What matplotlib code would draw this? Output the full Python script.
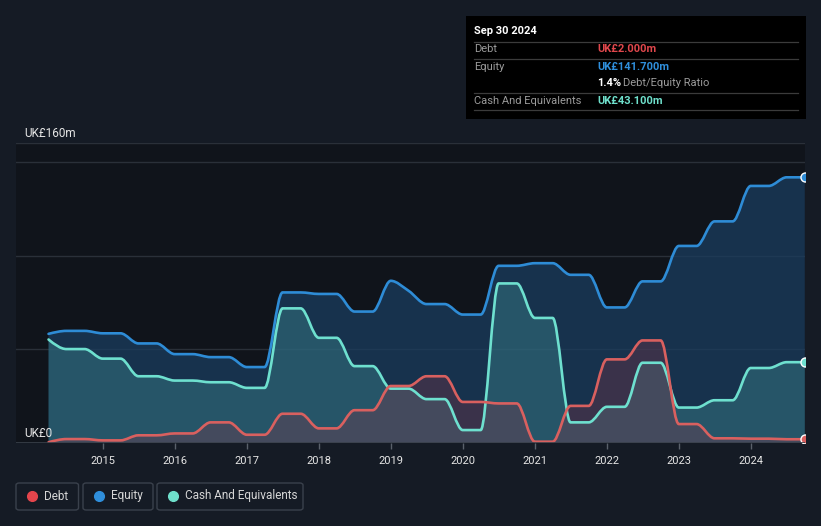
import numpy as np
import pandas as pd
import matplotlib
matplotlib.use("Agg")
import matplotlib.pyplot as plt
import matplotlib.dates as mdates
from matplotlib.path import Path
from matplotlib.patches import PathPatch, FancyBboxPatch, Rectangle

plt.rcParams['font.family'] = ['Roboto', 'DejaVu Sans']

# quarterly points, Mar 2014 .. Sep 2024 (UK£m)
dates = pd.date_range('2014-03-31', '2024-09-30', freq='QE')

debt = [0.4, 2.1, 2.1, 1.4,
        1.4, 4.1, 4.1, 5.1,
        5.1, 11.0, 11.0, 4.4,
        4.4, 15.6, 15.6, 7.8,
        7.8, 17.5, 17.5, 30.4,
        30.4, 35.6, 35.6, 21.9,
        21.9, 21.1, 21.1, 0.7,
        0.7, 19.8, 19.8, 44.6,
        44.6, 54.7, 54.7, 10.1,
        10.1, 2.5, 2.5, 2.3,
        2.3, 2.0, 2.0]

equity = [58.2, 59.8, 59.8, 58.5,
          58.5, 53.1, 53.1, 47.4,
          47.4, 45.8, 45.8, 40.5,
          40.5, 80.3, 80.3, 79.5,
          79.5, 70.1, 70.1, 86.5,
          81.2, 74.1, 74.1, 68.5,
          68.5, 94.5, 94.5, 95.9,
          95.9, 89.7, 89.7, 72.3,
          72.3, 86.2, 86.2, 105.1,
          105.1, 118.2, 118.2, 137.1,
          137.1, 141.7, 141.7]

cash = [55.2, 50.1, 50.1, 45.0,
        45.0, 35.6, 35.6, 33.3,
        33.3, 32.4, 32.4, 29.4,
        29.4, 71.8, 71.8, 56.1,
        56.1, 41.0, 41.0, 29.0,
        29.0, 23.4, 23.4, 6.9,
        6.9, 85.1, 85.1, 66.7,
        66.7, 11.0, 11.0, 19.3,
        19.3, 42.8, 42.8, 18.9,
        18.9, 22.8, 22.8, 40.0,
        40.0, 43.1, 43.1]

years = list(range(2015, 2025))

BG = '#151b25'
AX_BG = '#10141b'
RED = '#d9605f'
BLUE = '#2e8cd6'
TEAL = '#6ee0cf'


def monotone_path(x, y):
    # cubic bezier segments like d3 curveMonotoneX
    x = np.asarray(x, float)
    y = np.asarray(y, float)
    n = len(x)
    h = np.diff(x)
    s = np.diff(y) / h
    t = np.zeros(n)
    for i in range(1, n - 1):
        s0, s1 = s[i - 1], s[i]
        p = (s0 * h[i] + s1 * h[i - 1]) / (h[i - 1] + h[i])
        t[i] = (np.sign(s0) + np.sign(s1)) * min(abs(s0), abs(s1), 0.5 * abs(p))
    t[0] = (3 * s[0] - t[1]) / 2
    t[-1] = (3 * s[-1] - t[-2]) / 2
    verts = [(x[0], y[0])]
    codes = [Path.MOVETO]
    for i in range(n - 1):
        dx = h[i] / 3
        verts += [(x[i] + dx, y[i] + dx * t[i]),
                  (x[i + 1] - dx, y[i + 1] - dx * t[i + 1]),
                  (x[i + 1], y[i + 1])]
        codes += [Path.CURVE4] * 3
    return verts, codes


def draw_series(ax, x, y, color, fill, alpha, z):
    verts, codes = monotone_path(x, y)
    area = Path(verts + [(x[-1], 0), (x[0], 0), (x[0], y[0])],
                codes + [Path.LINETO, Path.LINETO, Path.CLOSEPOLY])
    ax.add_patch(PathPatch(area, facecolor=fill, alpha=alpha,
                           edgecolor='none', zorder=z))
    ax.add_patch(PathPatch(Path(verts, codes), facecolor='none',
                           edgecolor=color, lw=1.9, zorder=z + 10,
                           capstyle='round', joinstyle='round'))
    ax.plot(x[-1], y[-1], 'o', ms=6.5, color=color, mec='white',
            mew=1.0, zorder=z + 20, clip_on=True)


W, H = 821, 526
fig = plt.figure(figsize=(W / 100, H / 100), dpi=100, facecolor=BG)


def fx(px):
    return px / W


def fy(py):
    return 1 - py / H


ax = fig.add_axes([fx(16), fy(443), fx(805) - fx(16), fy(143) - fy(443)])
ax.set_facecolor(AX_BG)

xd = mdates.date2num(dates)
ax.set_xlim(mdates.date2num(pd.Timestamp('2013-10-17')),
            mdates.date2num(pd.Timestamp('2024-10-01')))
ax.set_ylim(0, 160)

draw_series(ax, xd, equity, BLUE, '#1a3d5e', 0.75, 2)
draw_series(ax, xd, cash, TEAL, '#4fb3b0', 0.28, 3)
draw_series(ax, xd, debt, RED, '#8c3344', 0.3, 4)

for v in [50, 100, 150, 160]:
    ax.axhline(v, color='#2a3039', lw=1, zorder=1)
ax.axhline(0, color='#3a414b', lw=1.2, zorder=30)

for sp in ax.spines.values():
    sp.set_visible(False)
ax.set_yticks([])
ax.set_xticks(mdates.date2num([pd.Timestamp(f'{y}-01-01') for y in years]))
ax.set_xticklabels([str(y) for y in years])
ax.tick_params(axis='x', colors='#5a616b', length=4, width=1,
               labelcolor='#e6e6e6', labelsize=8, pad=5)

ax.text(0.01, 161.5, 'UK£160m', color='#e6e6e6', fontsize=8.5,
        transform=ax.get_yaxis_transform(), va='bottom', ha='left')
ax.text(0.01, 1.5, 'UK£0', color='#e6e6e6', fontsize=8.5,
        transform=ax.get_yaxis_transform(), va='bottom', ha='left',
        zorder=40)

# tooltip box
fig.patches.append(Rectangle((fx(466), fy(119)), fx(806) - fx(466),
                             fy(16) - fy(119), transform=fig.transFigure,
                             facecolor='#000000', edgecolor='none'))
for ly in [41.5, 58.5, 92.5, 110]:
    fig.add_artist(plt.Line2D([fx(474), fx(798)], [fy(ly), fy(ly)],
                              color='#3b3b3b', lw=0.9,
                              transform=fig.transFigure))
fig.text(fx(474), fy(31), 'Sep 30 2024', color='white', fontsize=8,
         fontweight='bold', va='center')
rows = [(49.5, 'Debt', 'UK£2.000m', '#e0474c'),
        (66.5, 'Equity', 'UK£141.700m', '#2f8fdc'),
        (100.5, 'Cash And Equivalents', 'UK£43.100m', '#6fe0cc')]
for ry, lab, val, col in rows:
    fig.text(fx(474), fy(ry), lab, color='#9b9b9b', fontsize=8, va='center')
    fig.text(fx(597), fy(ry), val, color=col, fontsize=8,
             fontweight='bold', va='center')
fig.text(fx(597), fy(83), '1.4%', color='white', fontsize=8,
         fontweight='bold', va='center')
fig.text(fx(623), fy(83), 'Debt/Equity Ratio', color='#9b9b9b', fontsize=8,
         va='center')

# legend boxes
legend = [(16, 78.5, 'Debt', '#e5454c'),
          (83, 153, 'Equity', '#2f8fdc'),
          (157, 303, 'Cash And Equivalents', '#6fe0cc')]
for x0, x1, lab, col in legend:
    fig.patches.append(FancyBboxPatch(
        (fx(x0), fy(510)), fx(x1) - fx(x0), fy(483) - fy(510),
        boxstyle='round,pad=0,rounding_size=0.004',
        transform=fig.transFigure, facecolor='none',
        edgecolor='#3a414c', lw=1))
    fig.add_artist(plt.Line2D([fx(x0 + 15.5)], [fy(495.5)], marker='o',
                              ms=7, color=col, lw=0,
                              transform=fig.transFigure))
    fig.text(fx(x0 + 28), fy(496), lab, color='#d6d6d6', fontsize=8.5,
             va='center')

fig.savefig('out.png', dpi=100, facecolor=BG)
